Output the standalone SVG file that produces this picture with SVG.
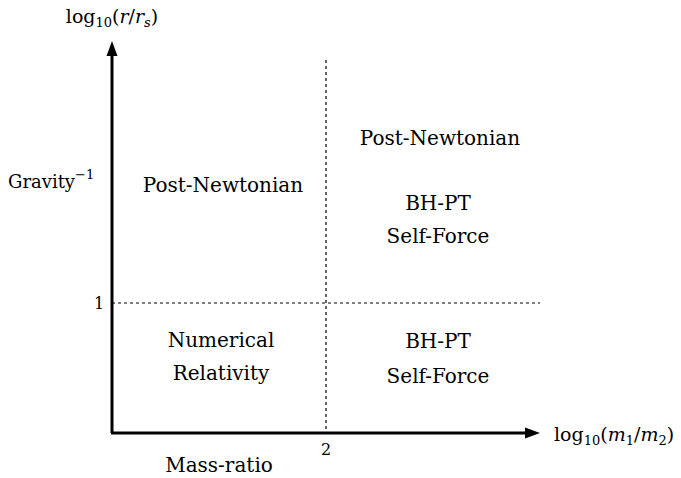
<svg xmlns="http://www.w3.org/2000/svg" width="681" height="478" viewBox="0 0 681 478">
<style>
text{font-family:'DejaVu Serif','Liberation Serif',serif;fill:#000}
.lbl{font-size:20px;text-anchor:middle}
.ax{stroke:#000;stroke-width:3;fill:none}
.dash{stroke:#000;stroke-width:1.2;stroke-dasharray:3,3;fill:none}
.tick{font-size:16px;text-anchor:middle}
</style>
<rect width="681" height="478" fill="#fff"/>
<g id="connectors">
<path class="ax" d="M112,433 L112,50"/>
<path d="M112,41 L106.5,56 L117.5,56 Z" fill="#000"/>
<path class="ax" d="M111,433 L530,433"/>
<path d="M540,433 L525,427.5 L525,438.5 Z" fill="#000"/>
<path class="dash" d="M326,60 L326,433"/>
<path class="dash" d="M112,303 L540,303"/>
</g>
<g id="axis-y-label"><text x="112" y="23" font-size="19" text-anchor="middle">log<tspan font-size="13" dy="4">10</tspan><tspan dy="-4">(<tspan font-style="italic">r</tspan>/<tspan font-style="italic">r</tspan><tspan font-size="13" font-style="italic" dy="4">s</tspan><tspan dy="-4">)</tspan></tspan></text></g>
<g id="axis-x-label"><text x="554" y="441" font-size="19">log<tspan font-size="13" dy="4">10</tspan><tspan dy="-4">(<tspan font-style="italic">m</tspan><tspan font-size="13" dy="4">1</tspan><tspan dy="-4">/</tspan><tspan font-style="italic">m</tspan><tspan font-size="13" dy="4">2</tspan><tspan dy="-4">)</tspan></tspan></text></g>
<g id="gravity"><text x="8" y="188" font-size="18">Gravity<tspan font-size="13" dy="-9">−1</tspan></text></g>
<g id="mass-ratio"><text class="lbl" x="219" y="472">Mass-ratio</text></g>
<g id="tick-1"><text class="tick" x="99" y="309">1</text></g>
<g id="tick-2"><text class="tick" x="326" y="455">2</text></g>
<g id="pn-left"><text class="lbl" x="223" y="192">Post-Newtonian</text></g>
<g id="pn-right"><text class="lbl" x="440" y="145">Post-Newtonian</text></g>
<g id="bhpt-top"><text class="lbl" x="438" y="210">BH-PT</text><text class="lbl" x="438" y="243">Self-Force</text></g>
<g id="nr"><text class="lbl" x="221" y="347">Numerical</text><text class="lbl" x="221" y="380">Relativity</text></g>
<g id="bhpt-bottom"><text class="lbl" x="438" y="348">BH-PT</text><text class="lbl" x="438" y="383">Self-Force</text></g>
</svg>
